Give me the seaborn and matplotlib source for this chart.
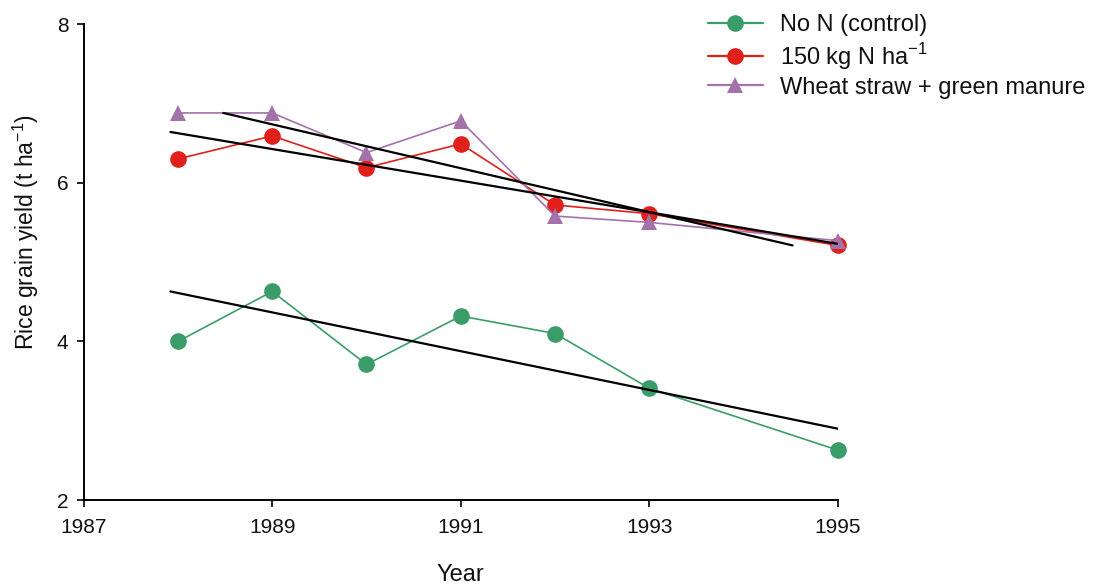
import matplotlib
matplotlib.use("Agg")
import matplotlib.pyplot as plt
import seaborn as sns
import pandas as pd
from matplotlib.lines import Line2D

# ---- data ----
years = [1988, 1989, 1990, 1991, 1992, 1993, 1995]
no_n = [4.00, 4.63, 3.71, 4.32, 4.10, 3.41, 2.63]
n150 = [6.30, 6.59, 6.19, 6.49, 5.72, 5.61, 5.21]
straw = [6.88, 6.88, 6.38, 6.78, 5.58, 5.50, 5.27]

series_names = ["No N (control)", "150 kg N ha$^{\\mathregular{-1}}$",
                "Wheat straw + green manure"]
series_colors = ["#3a9d69", "#e0201b", "#a472ab"]
series_markers = ["o", "o", "^"]

# fitted trend lines (end points)
trend_no_n_x = [1987.92, 1995.0]
trend_no_n_y = [4.63, 2.90]
trend_n150_x = [1987.92, 1995.0]
trend_n150_y = [6.64, 5.23]
trend_straw_x = [1988.48, 1994.52]
trend_straw_y = [6.88, 5.21]

x_ticks = [1987, 1989, 1991, 1993, 1995]
y_ticks = [2, 4, 6, 8]

# ---- plotting ----
sns.set_style("ticks")
plt.rcParams["font.family"] = ["Liberation Sans", "DejaVu Sans"]
plt.rcParams["text.color"] = "#111111"
plt.rcParams["axes.labelcolor"] = "#111111"
plt.rcParams["xtick.color"] = "black"
plt.rcParams["ytick.color"] = "black"
plt.rcParams["xtick.labelcolor"] = "#111111"
plt.rcParams["ytick.labelcolor"] = "#111111"

fig = plt.figure(figsize=(11.01, 5.87), dpi=100)
ax = fig.add_axes([0.076, 0.148, 0.685, 0.811])

df = pd.DataFrame({
    "Year": years * 3,
    "Yield": no_n + n150 + straw,
    "Treatment": [series_names[0]] * len(years) + [series_names[1]] * len(years)
                 + [series_names[2]] * len(years),
})

palette = dict(zip(series_names, series_colors))
markers = dict(zip(series_names, series_markers))

sns.lineplot(data=df, x="Year", y="Yield", hue="Treatment", style="Treatment",
             palette=palette, markers=markers, dashes=False, markersize=12,
             markeredgewidth=0, linewidth=1.2, legend=False, ax=ax, zorder=3)
for ln in ax.lines:
    ln.set_clip_on(False)

trend_df = pd.DataFrame({
    "x": trend_no_n_x + trend_n150_x + trend_straw_x,
    "y": trend_no_n_y + trend_n150_y + trend_straw_y,
    "g": ["a", "a", "b", "b", "c", "c"],
})
sns.lineplot(data=trend_df, x="x", y="y", units="g", estimator=None,
             color="black", linewidth=1.6, legend=False, ax=ax, zorder=4)

ax.set_xlim(1987, 1995)
ax.set_ylim(2, 8)
ax.set_xticks(x_ticks)
ax.set_yticks(y_ticks)
ax.tick_params(labelsize=15, length=5, width=1.2, direction="out")
ax.tick_params(axis="x", pad=8)
ax.tick_params(axis="y", pad=6)
for s in ["top", "right"]:
    ax.spines[s].set_visible(False)
for s in ["left", "bottom"]:
    ax.spines[s].set_linewidth(1.4)
    ax.spines[s].set_color("black")

ax.set_xlabel("Year", fontsize=17)
ax.set_ylabel("Rice grain yield (t ha$^{\\mathregular{-1}}$)", fontsize=16.5)
ax.xaxis.set_label_coords(0.5, -0.135)
ax.yaxis.set_label_coords(-0.056, 0.563)

handles = [Line2D([0], [0], color=c, marker=m, markersize=12, markeredgewidth=0,
                  linewidth=1.6)
           for c, m in zip(series_colors, series_markers)]
leg = fig.legend(handles, series_names, loc="upper left",
                 bbox_to_anchor=(0.624, 1.012), frameon=False, fontsize=17,
                 handlelength=2.3, handletextpad=0.75, labelspacing=0.2)

fig.savefig("out.png", dpi=100)
